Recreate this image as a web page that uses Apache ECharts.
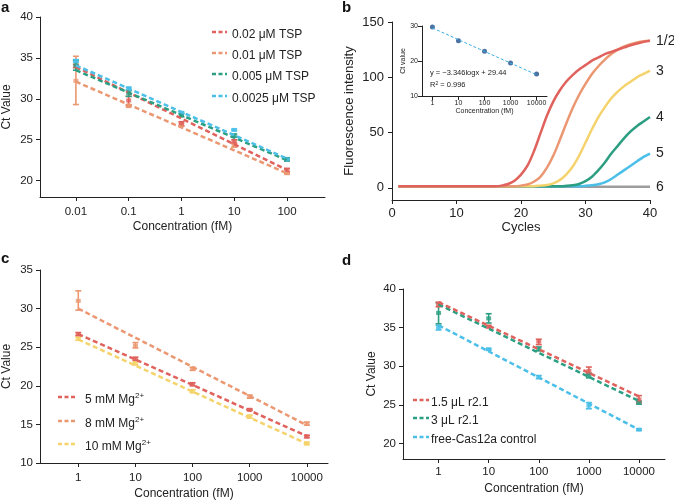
<!DOCTYPE html>
<html>
<head>
<meta charset="utf-8">
<script src="https://cdn.jsdelivr.net/npm/echarts@6/dist/echarts.min.js"></script>
<style>
  html, body { margin: 0; padding: 0; background: #fff; }
  #chart { width: 674px; height: 501px; }
</style>
</head>
<body>
<div id="chart"></div>
<script>
// colours
const RED = '#e0625d', ORANGE = '#eb9872', GREEN = '#2c9f82', BLUE = '#4bbfe8', YELLOW = '#f5d36c', GRAY = '#9d9d9d';
const FONT = '"Liberation Sans", Arial, sans-serif';

// ---- panel a : TSP concentration
const concA = [0.01, 0.1, 1, 10, 100];
const namesA = ['0.02 μM TSP', '0.01 μM TSP', '0.005 μM TSP', '0.0025 μM TSP'];
const meanA1 = [34.0, 29.8, 27.0, 24.8, 21.3];
const loA1 = [33.8, 29.2, 26.7, 24.6, 21.1];
const hiA1 = [34.2, 30.3, 27.2, 25.0, 21.5];
const meanA2 = [32.2, 29.1, 26.8, 24.3, 20.9];
const loA2 = [29.3, 29.0, 26.7, 24.1, 20.8];
const hiA2 = [35.2, 29.3, 27.0, 24.5, 21.0];
const meanA3 = [34.1, 30.7, 28.0, 25.5, 22.6];
const loA3 = [33.5, 30.3, 27.8, 25.3, 22.4];
const hiA3 = [34.7, 31.0, 28.2, 25.7, 22.8];
const meanA4 = [34.6, 31.3, 28.3, 26.2, 22.6];
const loA4 = [34.5, 31.1, 28.2, 26.1, 22.5];
const hiA4 = [34.8, 31.4, 28.4, 26.3, 22.7];
const fitA1 = [33.9, 21.3];
const fitA2 = [32.1, 20.9];
const fitA3 = [33.5, 22.5];
const fitA4 = [34.1, 22.7];

// ---- panel b : amplification curves (cycles 1..40)
const cycles = [1,2,3,4,5,6,7,8,9,10,11,12,13,14,15,16,17,18,19,20,21,22,23,24,25,26,27,28,29,30,31,32,33,34,35,36,37,38,39,40];
const curve12a = [1.5,1.5,1.5,1.5,1.5,1.5,1.5,1.5,1.5,1.5,1.5,1.5,1.5,1.5,1.5,1.5,2,3.5,6.5,12,20,33,49,65,78,88,96,102,107,111,115,118,121,123,125,127,129,130.5,132,133];
const curve12b = [1.5,1.5,1.5,1.5,1.5,1.5,1.5,1.5,1.5,1.5,1.5,1.5,1.5,1.5,1.5,1.5,1.5,1.5,1.5,2,3,5.5,10,18,29,43,58,72,84,94,103,110,116,121,125,128,130,131.5,132.5,133];
const curve3 = [1.5,1.5,1.5,1.5,1.5,1.5,1.5,1.5,1.5,1.5,1.5,1.5,1.5,1.5,1.5,1.5,1.5,1.5,1.5,1.5,1.5,1.5,2,2.5,4,7,12,19,29,41,53,64,73,81,87,92,96,100,103,106];
const curve4 = [1.5,1.5,1.5,1.5,1.5,1.5,1.5,1.5,1.5,1.5,1.5,1.5,1.5,1.5,1.5,1.5,1.5,1.5,1.5,1.5,1.5,1.5,1.5,1.5,1.5,1.5,1.8,2.3,3.5,6,10,16,23,31,38,45,51,56,60,64];
const curve5 = [1.5,1.5,1.5,1.5,1.5,1.5,1.5,1.5,1.5,1.5,1.5,1.5,1.5,1.5,1.5,1.5,1.5,1.5,1.5,1.5,1.5,1.5,1.5,1.5,1.5,1.5,1.5,1.5,1.5,1.8,2.3,3.2,5,8,12,16,20,24,28,31];
const curve6 = [1,1,1,1,1,1,1,1,1,1,1,1,1,1,1,1,1,1,1,1,1,1,1,1,1,1,1,1,1,1,1,1,1,1,1,1,1,1,1,1];

// ---- panel b inset : standard curve
const concInset = [1, 10, 100, 1000, 10000];
const ctInset = [29.7, 25.8, 22.8, 19.4, 16.3];
const fitInset = [29.44, 16.06];

// ---- panel c : Mg2+
const concC = [1, 10, 100, 1000, 10000];
const meanC1 = [26.7, 23.5, 20.2, 16.9, 13.4];
const loC1 = [26.5, 23.3, 20.0, 16.8, 13.3];
const hiC1 = [26.9, 23.7, 20.4, 17.0, 13.6];
const meanC2 = [31.0, 25.2, 22.2, 18.6, 15.1];
const loC2 = [29.8, 24.9, 22.0, 18.4, 14.9];
const hiC2 = [32.3, 25.6, 22.4, 18.8, 15.3];
const meanC3 = [26.1, 22.9, 19.3, 16.0, 12.5];
const loC3 = [25.9, 22.7, 19.1, 15.8, 12.4];
const hiC3 = [26.3, 23.1, 19.5, 16.2, 12.7];
const fitC1 = [26.7, 13.5];
const fitC2 = [30.0, 14.9];
const fitC3 = [26.0, 12.5];

// ---- panel d : r2.1
const concD = [1, 10, 100, 1000, 10000];
const meanD1 = [38.0, 35.1, 33.2, 29.4, 25.7];
const loD1 = [37.7, 35.0, 32.8, 29.0, 25.3];
const hiD1 = [38.3, 35.3, 33.5, 29.9, 26.2];
const meanD2 = [36.9, 36.2, 32.2, 28.8, 25.3];
const loD2 = [35.5, 35.6, 32.0, 28.5, 25.1];
const hiD2 = [38.2, 36.8, 32.5, 29.1, 25.5];
const meanD3 = [35.0, 32.2, 28.6, 24.9, 21.8];
const loD3 = [34.7, 32.1, 28.4, 24.5, 21.7];
const hiD3 = [35.3, 32.3, 28.8, 25.3, 21.9];
const fitD1 = [38.3, 26.1];
const fitD2 = [38.0, 25.5];
const fitD3 = [35.3, 21.8];

const lg = v => Math.round(Math.log10(v) * 1000) / 1000;

function errRender(color) {
  return function (params, api) {
    const x = api.value(0);
    const top = api.coord([x, api.value(2)]);
    const bot = api.coord([x, api.value(1)]);
    const w = 3, st = { stroke: color, lineWidth: 1.6 };
    return { type: 'group', children: [
      { type: 'line', shape: { x1: top[0], y1: top[1], x2: bot[0], y2: bot[1] }, style: st },
      { type: 'line', shape: { x1: top[0] - w, y1: top[1], x2: top[0] + w, y2: top[1] }, style: st },
      { type: 'line', shape: { x1: bot[0] - w, y1: bot[1], x2: bot[0] + w, y2: bot[1] }, style: st }
    ] };
  };
}

function ctSeries(g, conc, mean, lo, hi, fit, color) {
  const xs = conc.map(lg);
  return [
    { type: 'custom', xAxisIndex: g, yAxisIndex: g, renderItem: errRender(color), z: 3,
      data: xs.map((x, i) => [x, lo[i], hi[i]]) },
    { type: 'scatter', xAxisIndex: g, yAxisIndex: g, symbol: 'rect', symbolSize: [5, 4], z: 3,
      itemStyle: { color: color }, data: xs.map((x, i) => [x, mean[i]]) },
    { type: 'line', xAxisIndex: g, yAxisIndex: g, showSymbol: false, z: 4, silent: true,
      lineStyle: { color: color, width: 2.5, type: [5, 3] },
      data: [[xs[0], fit[0]], [xs[xs.length - 1], fit[1]]] }
  ];
}

const axisCommon = {
  axisLine: { onZero: false, lineStyle: { color: '#222', width: 1 } },
  splitLine: { show: false },
  nameLocation: 'middle'
};

function concAxis(g, conc, min, max, fs, margin, gap, nameFs) {
  const ticks = conc.map(lg);
  const map = {};
  conc.forEach(c => { map[Math.round(lg(c))] = String(c); });
  return Object.assign({}, axisCommon, {
    type: 'value', gridIndex: g, min: min, max: max,
    axisTick: { customValues: ticks, length: 4, lineStyle: { color: '#222' } },
    axisLabel: { customValues: ticks, formatter: v => map[Math.round(v)], fontSize: fs, color: '#222', margin: margin, fontFamily: FONT },
    name: 'Concentration (fM)', nameGap: gap,
    nameTextStyle: { fontSize: nameFs, color: '#222', fontFamily: FONT }
  });
}

function valAxis(g, min, max, ticks, fs, margin, name, gap, nameFs) {
  return Object.assign({}, axisCommon, {
    type: 'value', gridIndex: g, min: min, max: max,
    axisTick: { customValues: ticks, length: 4, lineStyle: { color: '#222' } },
    axisLabel: { customValues: ticks, fontSize: fs, color: '#222', margin: margin, fontFamily: FONT },
    name: name, nameGap: gap,
    nameTextStyle: { fontSize: nameFs, color: '#222', fontFamily: FONT }
  });
}

const legRich = {
  n: { fontSize: 12, fill: '#222', fontFamily: FONT, verticalAlign: 'bottom', lineHeight: 16 },
  sup: { fontSize: 8, fill: '#222', fontFamily: FONT, verticalAlign: 'bottom', lineHeight: 16, padding: [0, 0, 6, 0] }
};

function legendGraphics(x0, len, tx, ys, names, colors) {
  const out = [];
  names.forEach((n, i) => {
    out.push({ type: 'line', shape: { x1: x0, y1: ys[i], x2: x0 + len, y2: ys[i] },
      style: { stroke: colors[i], lineWidth: 2.5, lineDash: [4, 2.5] } });
    out.push({ type: 'text', x: x0 + tx, y: ys[i] + 1,
      style: { text: n, rich: legRich, verticalAlign: 'middle' } });
  });
  return out;
}

function curve(name, data, color, label) {
  return { type: 'line', name: name, xAxisIndex: 1, yAxisIndex: 1, showSymbol: false, smooth: 0.3,
    lineStyle: { color: color, width: 2.5 },
    data: cycles.map((c, i) => [c, data[i]]),
    endLabel: { show: !!label, formatter: label || '', color: '#222', fontSize: 14, distance: 6, fontFamily: FONT } };
}

const option = {
  animation: false,
  textStyle: { fontFamily: FONT },
  grid: [
    { left: 40, top: 17, width: 285, height: 180 },
    { left: 392, top: 22, width: 258, height: 178 },
    { left: 422, top: 26, width: 125, height: 70 },
    { left: 40, top: 270, width: 288, height: 194 },
    { left: 403, top: 289, width: 262, height: 170 }
  ],
  xAxis: [
    concAxis(0, concA, -2.68, 2.72, 11.5, 9, 24, 12),
    Object.assign({}, axisCommon, { type: 'value', gridIndex: 1, min: 0, max: 40, interval: 10,
      axisTick: { length: 4, lineStyle: { color: '#222' } },
      axisLabel: { fontSize: 13, color: '#222', margin: 7, fontFamily: FONT },
      name: 'Cycles', nameGap: 21, nameTextStyle: { fontSize: 13, color: '#222', fontFamily: FONT } }),
    concAxis(2, concInset, -0.4, 4.4, 7, 4, 11, 7),
    concAxis(3, concC, -0.67, 4.37, 11.5, 9, 25, 12),
    concAxis(4, concD, -0.71, 4.52, 11.5, 7, 24, 12)
  ],
  yAxis: [
    valAxis(0, 18, 40, [20, 25, 30, 35, 40], 11.5, 7, 'Ct Value', 27, 12),
    valAxis(1, -11, 150, [0, 50, 100, 150], 13, 8, 'Fluorescence intensity', 36, 13),
    valAxis(2, 10, 30, [10, 20, 30], 7, 4, 'Ct value', 13, 7),
    valAxis(3, 10, 35, [10, 15, 20, 25, 30, 35], 11.5, 7, 'Ct Value', 27, 12),
    valAxis(4, 18, 40, [20, 25, 30, 35, 40], 11.5, 7, 'Ct Value', 25, 12)
  ],
  series: [].concat(
    ctSeries(0, concA, meanA2, loA2, hiA2, fitA2, ORANGE),
    ctSeries(0, concA, meanA1, loA1, hiA1, fitA1, RED),
    ctSeries(0, concA, meanA3, loA3, hiA3, fitA3, GREEN),
    ctSeries(0, concA, meanA4, loA4, hiA4, fitA4, BLUE),
    [
      curve('6', curve6, GRAY, '6'),
      curve('5', curve5, BLUE, '5'),
      curve('4', curve4, GREEN, '4'),
      curve('3', curve3, YELLOW, '3'),
      curve('2', curve12b, ORANGE, ''),
      curve('1', curve12a, RED, '1/2'),
      { type: 'line', xAxisIndex: 2, yAxisIndex: 2, showSymbol: false, silent: true,
        lineStyle: { color: '#3aaee0', width: 1, type: [3, 2] },
        data: [[lg(concInset[0]), fitInset[0]], [lg(concInset[4]), fitInset[1]]] },
      { type: 'scatter', xAxisIndex: 2, yAxisIndex: 2, symbolSize: 5, itemStyle: { color: '#1d4f8c' },
        data: concInset.map((c, i) => [lg(c), ctInset[i]]) }
    ],
    ctSeries(3, concC, meanC3, loC3, hiC3, fitC3, YELLOW),
    ctSeries(3, concC, meanC1, loC1, hiC1, fitC1, RED),
    ctSeries(3, concC, meanC2, loC2, hiC2, fitC2, ORANGE),
    ctSeries(4, concD, meanD3, loD3, hiD3, fitD3, BLUE),
    ctSeries(4, concD, meanD2, loD2, hiD2, fitD2, GREEN),
    ctSeries(4, concD, meanD1, loD1, hiD1, fitD1, RED)
  ),
  graphic: [].concat(
    [
      { type: 'text', x: 1, y: 0, style: { text: 'a', font: 'bold 15px ' + FONT, fill: '#111' } },
      { type: 'text', x: 342, y: 0, style: { text: 'b', font: 'bold 15px ' + FONT, fill: '#111' } },
      { type: 'text', x: 1, y: 251, style: { text: 'c', font: 'bold 15px ' + FONT, fill: '#111' } },
      { type: 'text', x: 342, y: 253, style: { text: 'd', font: 'bold 15px ' + FONT, fill: '#111' } },
      { type: 'text', x: 430, y: 73, style: { text: 'y = −3.346logx + 29.44', font: '7.5px ' + FONT, fill: '#222', verticalAlign: 'middle' } },
      { type: 'text', x: 430, y: 84, style: { text: '{n|R}{sup|2}{n| = 0.996}', verticalAlign: 'middle',
        rich: { n: { fontSize: 7.5, fill: '#222', fontFamily: FONT, verticalAlign: 'bottom', lineHeight: 10 },
                sup: { fontSize: 5, fill: '#222', fontFamily: FONT, verticalAlign: 'bottom', lineHeight: 10, padding: [0, 0, 3, 0] } } } }
    ],
    legendGraphics(212, 15, 20, [32, 53, 74, 96], namesA.map(n => '{n|' + n + '}'), [RED, ORANGE, GREEN, BLUE]),
    legendGraphics(58, 19, 27, [397, 421, 444], ['{n|5 mM Mg}{sup|2+}', '{n|8 mM Mg}{sup|2+}', '{n|10 mM Mg}{sup|2+}'], [RED, ORANGE, YELLOW]),
    legendGraphics(413, 16, 18, [400, 418, 437], ['{n|1.5 μL r2.1}', '{n|3 μL r2.1}', '{n|free-Cas12a control}'], [RED, GREEN, BLUE])
  )
};

const chart = echarts.init(document.getElementById('chart'), null, { renderer: 'canvas' });
chart.setOption(option);
</script>
</body>
</html>
